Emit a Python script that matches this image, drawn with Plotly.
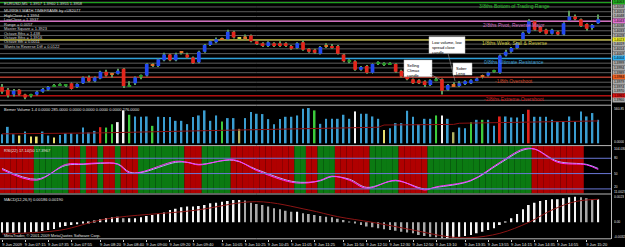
import plotly.graph_objects as go

W, H = 625, 247
PR = 611  # right edge of plotting area in px


def xp(px):
    return px / W


def yp(px):
    return 1 - px / H


# ---------------- data ----------------
open_ = [1.3974, 1.3971, 1.3966, 1.3971, 1.3966, 1.3965, 1.3966, 1.3969, 1.3971, 1.3975,
         1.3976, 1.3976, 1.3978, 1.3974, 1.3978, 1.3984, 1.3980, 1.3983, 1.3990, 1.3988,
         1.3988, 1.3993, 1.3975, 1.3978, 1.3985, 1.3986, 1.3997, 1.3996, 1.4002, 1.4008,
         1.4002, 1.4010, 1.4008, 1.4005, 1.4000, 1.4011, 1.4018, 1.4021, 1.4024, 1.4024,
         1.4032, 1.4025, 1.4027, 1.4028, 1.4022, 1.4020, 1.4017, 1.4020, 1.4020, 1.4020,
         1.4017, 1.4015, 1.4021, 1.4014, 1.4013, 1.4009, 1.4018, 1.4017, 1.4017, 1.4008,
         1.4001, 1.4001, 1.3992, 1.3996, 1.3989, 1.3999, 1.3998, 1.3998, 1.3998, 1.3991,
         1.3986, 1.3982, 1.3981, 1.3980, 1.3976, 1.3981, 1.3982, 1.3971, 1.3977, 1.3975,
         1.3977, 1.3978, 1.3981, 1.3986, 1.3986, 1.3990, 1.3989, 1.4007, 1.4011, 1.4015,
         1.4024, 1.4031, 1.4043, 1.4037, 1.4034, 1.4030, 1.4032, 1.4029, 1.4044, 1.4048,
         1.4045, 1.4040, 1.4036, 1.4041]
high = [1.3977, 1.3973, 1.3972, 1.3972, 1.3967, 1.3967, 1.3970, 1.3973, 1.3975, 1.3977,
        1.3978, 1.3977, 1.3979, 1.3978, 1.3985, 1.3986, 1.3985, 1.3991, 1.3992, 1.3989,
        1.3993, 1.3994, 1.3980, 1.3985, 1.3987, 1.3999, 1.3999, 1.4004, 1.4010, 1.4009,
        1.4010, 1.4011, 1.4010, 1.4006, 1.4012, 1.4019, 1.4023, 1.4026, 1.4026, 1.4034,
        1.4033, 1.4026, 1.4029, 1.4029, 1.4023, 1.4021, 1.4022, 1.4021, 1.4022, 1.4021,
        1.4018, 1.4021, 1.4023, 1.4015, 1.4014, 1.4017, 1.4020, 1.4019, 1.4018, 1.4009,
        1.4003, 1.4002, 1.3996, 1.3997, 1.3999, 1.4001, 1.4000, 1.4000, 1.3999, 1.3992,
        1.3987, 1.3983, 1.3982, 1.3981, 1.3982, 1.3984, 1.3983, 1.3977, 1.3979, 1.3980,
        1.3981, 1.3982, 1.3984, 1.3987, 1.3990, 1.3992, 1.4008, 1.4013, 1.4016, 1.4021,
        1.4032, 1.4045, 1.4044, 1.4038, 1.4035, 1.4035, 1.4033, 1.4042, 1.4054, 1.4050,
        1.4046, 1.4041, 1.4040, 1.4050]
low = [1.3967, 1.3963, 1.3964, 1.3965, 1.3961, 1.3963, 1.3965, 1.3968, 1.3970, 1.3974,
       1.3975, 1.3974, 1.3971, 1.3973, 1.3977, 1.3979, 1.3979, 1.3982, 1.3985, 1.3984,
       1.3987, 1.3973, 1.3974, 1.3976, 1.3982, 1.3985, 1.3995, 1.3995, 1.4001, 1.4001,
       1.4001, 1.4008, 1.4004, 1.3998, 1.3999, 1.4010, 1.4017, 1.4020, 1.4023, 1.4023,
       1.4025, 1.4024, 1.4023, 1.4021, 1.4018, 1.4016, 1.4016, 1.4016, 1.4016, 1.4016,
       1.4013, 1.4014, 1.4012, 1.4010, 1.4009, 1.4008, 1.4015, 1.4014, 1.4008, 1.4000,
       1.3999, 1.3991, 1.3991, 1.3988, 1.3988, 1.3997, 1.3996, 1.3997, 1.3989, 1.3984,
       1.3981, 1.3977, 1.3977, 1.3974, 1.3975, 1.3980, 1.3966, 1.3970, 1.3974, 1.3974,
       1.3976, 1.3977, 1.3980, 1.3983, 1.3985, 1.3989, 1.3988, 1.4006, 1.4010, 1.4014,
       1.4023, 1.4030, 1.4033, 1.4031, 1.4029, 1.4029, 1.4028, 1.4028, 1.4043, 1.4044,
       1.4037, 1.4033, 1.4034, 1.4040]
close = [1.3969, 1.3965, 1.3970, 1.3966, 1.3963, 1.3965, 1.3969, 1.3972, 1.3974, 1.3975,
         1.3976, 1.3976, 1.3972, 1.3977, 1.3984, 1.3980, 1.3984, 1.3990, 1.3986, 1.3987,
         1.3991, 1.3975, 1.3975, 1.3984, 1.3985, 1.3998, 1.3997, 1.4003, 1.4008, 1.4002,
         1.4008, 1.4010, 1.4005, 1.3999, 1.4011, 1.4018, 1.4022, 1.4024, 1.4024, 1.4032,
         1.4026, 1.4025, 1.4024, 1.4022, 1.4019, 1.4017, 1.4021, 1.4017, 1.4017, 1.4017,
         1.4014, 1.4020, 1.4013, 1.4011, 1.4010, 1.4016, 1.4017, 1.4015, 1.4009, 1.4001,
         1.4001, 1.3992, 1.3995, 1.3989, 1.3998, 1.3999, 1.3998, 1.3998, 1.3990, 1.3985,
         1.3982, 1.3978, 1.3978, 1.3976, 1.3981, 1.3981, 1.3970, 1.3976, 1.3975, 1.3978,
         1.3980, 1.3981, 1.3983, 1.3985, 1.3989, 1.3990, 1.4007, 1.4011, 1.4015, 1.4020,
         1.4031, 1.4043, 1.4034, 1.4032, 1.4030, 1.4034, 1.4029, 1.4041, 1.4048, 1.4045,
         1.4038, 1.4035, 1.4039, 1.4045]
# candle classes: u=up, d=down, n=neutral doji, w=weak, t=test
candle_class = list("dduddnuuun" "nnduuduudw" "udnunuwuud" "uwdduuuuwu" "dtwddduddd"
                    "duddduwddd" "ndudunnndd" "ddddunduwu" "uuuwunuuuu" "uuddduduud" "dduu")

volume = [144, 261, 144, 123, 187, 107, 107, 187, 123, 91,
          133, 160, 160, 144, 250, 171, 197, 256, 250, 304,
          336, 522, 453, 426, 421, 426, 277, 421, 416, 416,
          357, 357, 304, 416, 442, 522, 357, 442, 346, 400,
          400, 229, 400, 496, 469, 464, 384, 304, 384, 421,
          421, 442, 549, 560, 522, 309, 389, 389, 389, 453,
          389, 506, 469, 469, 426, 389, 213, 240, 320, 320,
          517, 421, 304, 389, 389, 442, 442, 389, 176, 250,
          240, 336, 373, 373, 373, 277, 426, 426, 410, 410,
          464, 533, 421, 421, 421, 373, 346, 346, 426, 346,
          506, 426, 480, 373]
# volume classes: n=normal, c=climax, g=churn, y=low, k=low-khaki, w=high
volume_class = list("nnnynyynny" "nnnnnnncgg" "wwgnnngnnn" "nnnnnnnngn" "nknnnnnnnn"
                    "nnnngnnnnn" "nwnnnnynnn" "nnnnngwnkn" "ngngnncnnn" "ncnnnnnnnn" "nnnn")
vol_ma_idx = [0, 17, 35, 55, 65, 66, 78, 79, 90, 103]
vol_ma_val = [150, 165, 200, 240, 255, 290, 300, 318, 335, 355]

rsi_idx = [0, 6, 11, 14, 17, 20, 22, 24, 30, 32, 34, 40, 44, 50, 53, 55, 57, 60, 63, 68,
           73, 75, 81, 86, 90, 92, 96, 101, 103]
rsi_main = [58, 37, 68, 69, 71, 68, 51, 53, 74, 72, 67, 77, 56, 33, 32, 37, 45, 37, 21, 37,
            18, 24, 37, 72, 98, 98, 72, 67, 58]
rsi_signal = [60, 39, 66, 68, 70, 69, 53, 52, 72, 72, 68, 76, 58, 35, 33, 36, 44, 39, 23, 36,
              20, 23, 36, 70, 96, 98, 74, 68, 60]
# trend zone runs: g=bull (green), s=bear (red), -=none
rsi_zone_runs = [("s", 6), ("g", 6), ("s", 2), ("g", 1), ("s", 2), ("g", 1), ("s", 2), ("g", 1),
                 ("s", 3), ("g", 8), ("s", 3), ("g", 5), ("s", 11), ("g", 2), ("s", 2), ("g", 3),
                 ("s", 6), ("g", 5), ("s", 5), ("g", 18), ("s", 9), ("-", 3)]
rsi_levels = [80, 50, 20]

macd_hist = [-9.1, -9.1, -8.9, -8.9, -8.9, -8.6, -8.3, -7.7, -6.8, -5.9,
             -4.4, -3.2, -2.4, -1.8, -0.9, -0.3, 1.5, 2.7, 3.8, 4.4,
             5.0, 3.5, 3.5, 3.5, 4.4, 5.6, 6.5, 7.4, 8.6, 10.9,
             12.1, 13.3, 13.9, 13.9, 14.5, 15.3, 16.8, 17.4, 18.3, 18.9,
             19.8, 19.8, 19.2, 17.4, 16.2, 15.3, 13.9, 12.4, 11.5, 10.3,
             9.4, 9.4, 8.0, 7.4, 6.5, 5.6, 5.0, 4.4, 3.2, 2.1,
             0.6, -0.9, -2.4, -3.8, -4.4, -5.3, -6.2, -6.8, -7.4, -8.3,
             -9.1, -9.7, -11.2, -12.1, -12.7, -13.3, -14.2, -14.2, -13.6, -12.7,
             -12.1, -11.2, -9.7, -8.3, -6.8, -5.3, -2.4, 0.6, 3.5, 7.4,
             11.5, 15.3, 17.4, 18.9, 19.8, 20.4, 20.4, 21.2, 22.1, 22.7,
             22.1, 21.2, 20.4, 20.4]  # x 1e-4
macd_sig_idx = [0, 10, 18, 33, 44, 53, 58, 64, 71, 77, 81, 86, 91, 95, 99, 103]
macd_sig_val = [-10.3, -7.0, 3.0, 10.4, 18.3, 10.9, 5.0, 0.0, -6.8, -12.7, -13.6, -9.7, 0.0, 10.9, 18.3, 20.4]

murrey_levels = [1.40625, 1.40430, 1.40234, 1.40039, 1.39844, 1.39648]
murrey_names = ["3/8ths Bottom of Trading Range", "2/8ths Pivot, Reverse Major",
                "1/8ths Weak, Stall & Reverse", "0/8ths Ultimate Resistance",
                "-1/8th Overshoot", "-2/8ths Extreme Overshoot"]
grid_levels = [1.4063, 1.4058, 1.4053, 1.4048, 1.4043, 1.4038, 1.4033, 1.4028, 1.4023, 1.4019,
               1.4014, 1.4009, 1.4004, 1.3999, 1.3994, 1.3989, 1.3984, 1.3979, 1.3974, 1.3970,
               1.3965, 1.3960]

time_tick_idx = [0, 4, 8, 12, 17, 21, 25, 29, 33, 38, 42, 46, 50, 54, 59, 63, 67, 71, 75, 80,
                 84, 88, 92, 96, 101]
time_labels = ["9 Jun 2009", "9 Jun 07:15", "9 Jun 07:35", "9 Jun 07:55", "9 Jun 08:20",
               "9 Jun 08:40", "9 Jun 09:00", "9 Jun 09:20", "9 Jun 09:40", "9 Jun 10:05",
               "9 Jun 10:25", "9 Jun 10:45", "9 Jun 11:05", "9 Jun 11:25", "9 Jun 11:50",
               "9 Jun 12:10", "9 Jun 12:30", "9 Jun 12:50", "9 Jun 13:10", "9 Jun 13:35",
               "9 Jun 13:55", "9 Jun 14:15", "9 Jun 14:35", "9 Jun 14:55", "9 Jun 15:20"]

info_lines = ["EURUSD,M5  1.3957 1.3960 1.3955 1.3958",
              "MURREY MATH TIMEFRAME by cU82077",
              "HighClose = 1.3994",
              "LowClose = 1.3937",
              "Range = 0.0057",
              "Master Square = 1.3923",
              "Octave 8ths = 1.438",
              "Octave 8ths = 1.3916",
              "Octave 8th = 0.0011",
              "Wants to Reverse Diff = 0.0122"]

# ---------------- styles ----------------
CANDLE_COL = {"u": "#2349f0", "d": "#e3261c", "n": "#2a9a2a", "w": "#e0702a", "t": "#d8d840"}
VOL_COL = {"n": "#3a9dd0", "c": "#e0201a", "g": "#3ccc3c", "y": "#e8e070", "k": "#b0b060", "w": "#f4f4f4"}
ZONE_COL = {"g": "#0b7a12", "s": "#b00000", "-": "rgba(0,0,0,0)"}
MURREY_COL = ["#1fa01f", "#d070c0", "#c8c040", "#2e9fd8", "#c03020", "#b01010"]
MURREY_TXT = ["#30c030", "#d070c0", "#d0c840", "#3aa0d8", "#d04020", "#d02020"]
MURREY_LAB = ["#20b020", "#e070d0", "#f0f020", "#30b0f0", "#f06020", "#e01010"]
FONT = "Liberation Sans"

n = len(close)
idx = list(range(n))
rsi_zone = [z for z, cnt in rsi_zone_runs for _ in range(cnt)]

MAIN_D = [yp(104.5), 1.0]
VOL_D = [yp(145), yp(106)]
RSI_D = [yp(193.5), yp(146)]
MACD_D = [yp(238.5), yp(194.5)]

fig = go.Figure()

# --- main pane: candles ---
body_base = [min(o, c) for o, c in zip(open_, close)]
body_h = [max(abs(c - o), 0.00009) for o, c in zip(open_, close)]
fig.add_trace(go.Bar(x=idx, y=[h - l for h, l in zip(high, low)], base=low, width=0.17,
                     marker=dict(color="#5c9a5c", line=dict(width=0)), yaxis="y", hoverinfo="skip"))
fig.add_trace(go.Bar(x=idx, y=body_h, base=body_base, width=0.64,
                     marker=dict(color=[CANDLE_COL[k] for k in candle_class], line=dict(width=0)),
                     yaxis="y", hoverinfo="skip"))

# --- volume pane ---
fig.add_trace(go.Bar(x=idx, y=volume, width=0.3,
                     marker=dict(color=[VOL_COL[k] for k in volume_class], line=dict(width=0)),
                     yaxis="y2", hoverinfo="skip"))
fig.add_trace(go.Scatter(x=vol_ma_idx, y=vol_ma_val, mode="lines", line=dict(color="#8b1010", width=1),
                         yaxis="y2", hoverinfo="skip"))

# --- RSI pane ---
RSI_LO, RSI_HI = 11.0027, 104.03
fig.add_trace(go.Bar(x=idx, y=[RSI_HI - RSI_LO] * n, base=RSI_LO, width=1.0,
                     marker=dict(color=[ZONE_COL[z] for z in rsi_zone], line=dict(width=0)),
                     yaxis="y3", hoverinfo="skip"))
fig.add_trace(go.Scatter(x=rsi_idx, y=rsi_signal, mode="lines", line=dict(color="#b8a8ff", width=1, shape="spline"),
                         yaxis="y3", hoverinfo="skip"))
fig.add_trace(go.Scatter(x=rsi_idx, y=rsi_main, mode="lines", line=dict(color="#ff30ff", width=1, shape="spline"),
                         yaxis="y3", hoverinfo="skip"))

# --- MACD pane ---
macd_vals = [v * 1e-4 for v in macd_hist]
macd_col = ["#f4f4f4" if i == 0 or macd_vals[i] >= macd_vals[i - 1] else "#a8a8a8" for i in range(n)]
fig.add_trace(go.Bar(x=idx, y=macd_vals, width=0.3, marker=dict(color=macd_col, line=dict(width=0)),
                     yaxis="y4", hoverinfo="skip"))
fig.add_trace(go.Scatter(x=macd_sig_idx, y=[v * 1e-4 for v in macd_sig_val], mode="lines",
                         line=dict(color="#8b1414", width=1, shape="spline"), yaxis="y4", hoverinfo="skip"))

shapes = []
annotations = []

# grid / murrey lines in main pane
for lv in grid_levels:
    shapes.append(dict(type="line", xref="paper", x0=0, x1=xp(PR), yref="y", y0=lv, y1=lv,
                       line=dict(color="#5e5e5e", width=1), layer="below"))
for lv, col in zip(murrey_levels, MURREY_COL):
    shapes.append(dict(type="line", xref="paper", x0=0, x1=xp(PR), yref="y", y0=lv, y1=lv,
                       line=dict(color=col, width=1.3), layer="below"))
for lv, name, col in zip(murrey_levels, murrey_names, MURREY_TXT):
    annotations.append(dict(xref="paper", yref="y", x=xp(514), y=lv, yshift=-3.5, text=name,
                            showarrow=False, font=dict(size=5, color=col, family=FONT),
                            xanchor="center", yanchor="middle"))

# right price labels
for i, lv in enumerate(grid_levels):
    bg = "#a9a9a9"
    for ml, lc in zip(murrey_levels, MURREY_LAB):
        if abs(ml - lv) < 0.00006:
            bg = lc
    annotations.append(dict(xref="paper", yref="y", x=xp(612), y=lv, text="%.4f" % lv, showarrow=False,
                            font=dict(size=3.3, color="#000000", family=FONT), bgcolor=bg,
                            xanchor="left", yanchor="middle", borderpad=0, width=12, height=3.8))

# RSI level lines
for lv in rsi_levels:
    shapes.append(dict(type="line", xref="paper", x0=0, x1=xp(PR), yref="y3", y0=lv, y1=lv,
                       line=dict(color="#6a78d8", width=1)))

# pane separators and frame
for py in [105.2, 145.6, 194.0, 238.8]:
    shapes.append(dict(type="line", xref="paper", yref="paper", x0=0, x1=xp(PR), y0=yp(py), y1=yp(py),
                       line=dict(color="#b8b8b8", width=1)))
shapes.append(dict(type="line", xref="paper", yref="paper", x0=xp(PR + 0.5), x1=xp(PR + 0.5), y0=yp(239), y1=1,
                   line=dict(color="#b8b8b8", width=1)))

# info text top-left
for k, t in enumerate(info_lines):
    py = 3.3 if k == 0 else 10.8 + (k - 1) * 4.45
    annotations.append(dict(xref="paper", yref="paper", x=xp(2), y=yp(py), text=t, showarrow=False,
                            font=dict(size=4, color="#d8d8d8", family=FONT), xanchor="left", yanchor="middle"))

# callout boxes
callouts = [((429, 36.7, 465, 53.3), "Low volume, low<br>spread close<br>candle", (448, 53.3), (455, 81)),
            ((404, 60, 432, 76.7), "Selling<br>Climax<br>candle", (430, 74), (441, 80)),
            ((453, 63, 472, 75), "Sober<br>Leng", None, None)]
for (x0, y0, x1, y1), txt, a, b in callouts:
    shapes.append(dict(type="rect", xref="paper", yref="paper", x0=xp(x0), x1=xp(x1), y0=yp(y1), y1=yp(y0),
                       fillcolor="#ffffff", line=dict(color="#c0c0c0", width=0.5)))
    annotations.append(dict(xref="paper", yref="paper", x=xp(x0 + 1), y=yp(y0 + 1), text=txt, showarrow=False,
                            font=dict(size=4, color="#000000", family=FONT), xanchor="left", yanchor="top",
                            align="left"))
    if a:
        shapes.append(dict(type="line", xref="paper", yref="paper", x0=xp(a[0]), y0=yp(a[1]), x1=xp(b[0]),
                           y1=yp(b[1]), line=dict(color="#9a9a9a", width=0.6)))

# sub-window captions
annotations += [
    dict(xref="paper", yref="paper", x=xp(2), y=yp(109), text="Bemer Volume 1.4 0.0000 285.0000 0.0000 0.0000 0.0000 0.0000 276.0000",
         showarrow=False, font=dict(size=4, color="#e0e0e0", family=FONT), xanchor="left", yanchor="middle"),
    dict(xref="paper", yref="paper", x=xp(2), y=yp(150), text="RSI(22) 17.14(50 17.3967",
         showarrow=False, font=dict(size=4, color="#e0e0e0", family=FONT), xanchor="left", yanchor="middle"),
    dict(xref="paper", yref="paper", x=xp(2), y=yp(199.5), text="MACD(12,26,9) 0.00186 0.00190",
         showarrow=False, font=dict(size=4, color="#e0e0e0", family=FONT), xanchor="left", yanchor="middle"),
    dict(xref="paper", yref="paper", x=xp(2), y=yp(235), text="MetaTrader, © 2001-2009 MetaQuotes Software Corp.",
         showarrow=False, font=dict(size=4, color="#e0e0e0", family=FONT), xanchor="left", yanchor="middle"),
]
# right axis labels of sub panes
for txt, py in [("560.85", 108.5), ("0.0000", 142), ("104.030", 148.5), ("80", 158), ("50", 173.5),
                ("20", 187.3), ("11.0027", 191.6), ("0.0023", 196.6), ("0.00", 221.5), ("-0.0032", 237)]:
    annotations.append(dict(xref="paper", yref="paper", x=xp(613), y=yp(py), text=txt, showarrow=False,
                            font=dict(size=3.3, color="#e0e0e0", family=FONT), xanchor="left", yanchor="middle",
                            height=3.8, borderpad=0))

fig.update_layout(
    width=W, height=H, margin=dict(l=0, r=0, t=0, b=0),
    paper_bgcolor="#000000", plot_bgcolor="#000000", showlegend=False, barmode="overlay",
    xaxis=dict(domain=[0, xp(PR)], range=[-0.35, 105.2], anchor="y4", showgrid=False, zeroline=False,
               tickvals=time_tick_idx, ticktext=time_labels, ticks="outside", ticklen=2, tickcolor="#d0d0d0",
               tickangle=0, tickfont=dict(size=4, color="#e0e0e0", family=FONT), ticklabelshift=10,
               ticklabelstandoff=0, showline=False),
    yaxis=dict(domain=MAIN_D, range=[1.39556, 1.40653], visible=False),
    yaxis2=dict(domain=VOL_D, range=[-27, 592], visible=False),
    yaxis3=dict(domain=RSI_D, range=[RSI_LO, RSI_HI], visible=False),
    yaxis4=dict(domain=MACD_D, range=[-0.00143, 0.00246], visible=False),
    shapes=shapes, annotations=annotations,
)

fig.write_html("out.html")
